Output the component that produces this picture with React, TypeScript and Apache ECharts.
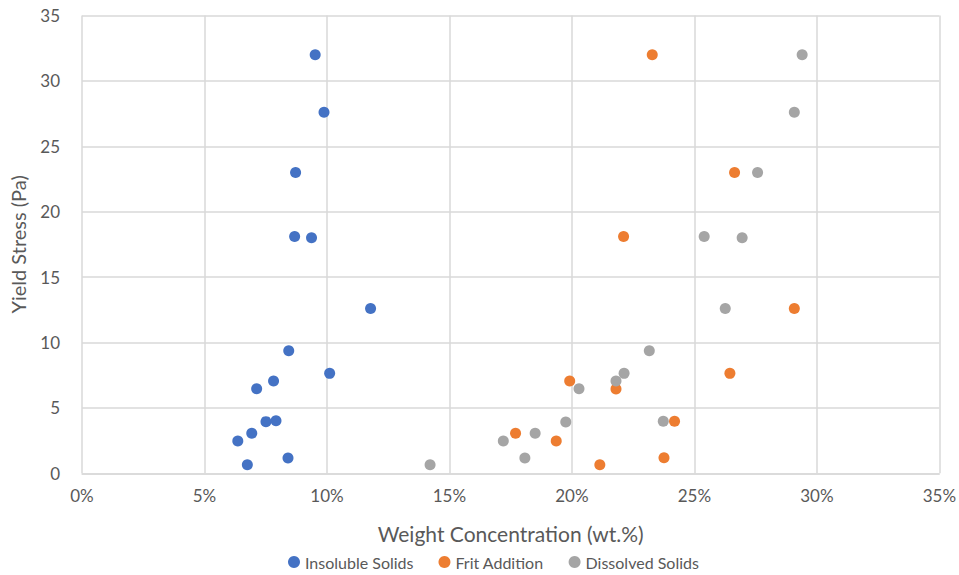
import React, { useEffect, useRef } from "react";
import * as echarts from "echarts";

const seriesNames = ["Insoluble Solids", "Frit Addition", "Dissolved Solids"];
const seriesColors = ["#4472C4", "#ED7D31", "#A5A5A5"];

// [weight concentration (fraction), yield stress (Pa)]
const insolubleSolids: [number, number][] = [
  [0.0952, 32.0], [0.0988, 27.6], [0.0872, 23.0], [0.0868, 18.1], [0.0937, 18.0],
  [0.1178, 12.6], [0.0844, 9.37], [0.1011, 7.64], [0.0782, 7.06], [0.0713, 6.47],
  [0.0751, 3.95], [0.0792, 4.02], [0.0693, 3.06], [0.0636, 2.47], [0.0841, 1.17],
  [0.0675, 0.66],
];
const fritAddition: [number, number][] = [
  [0.2328, 32.0], [0.2664, 23.0], [0.2211, 18.1], [0.2908, 12.6], [0.2645, 7.64],
  [0.1991, 7.06], [0.2180, 6.45], [0.2419, 3.98], [0.1770, 3.06], [0.1936, 2.47],
  [0.2376, 1.19], [0.2114, 0.66],
];
const dissolvedSolids: [number, number][] = [
  [0.2940, 32.0], [0.2908, 27.6], [0.2758, 23.0], [0.2540, 18.1], [0.2695, 18.0],
  [0.2626, 12.6], [0.2316, 9.37], [0.2213, 7.64], [0.2180, 7.06], [0.2029, 6.47],
  [0.2373, 3.98], [0.1975, 3.92], [0.1850, 3.06], [0.1720, 2.47], [0.1808, 1.17],
  [0.1421, 0.66],
];

const xAxisName = "Weight Concentration (wt.%)";
const yAxisName = "Yield Stress (Pa)";

export default function App() {
  const ref = useRef<HTMLDivElement>(null);
  useEffect(() => {
    if (!ref.current) return;
    const chart = echarts.init(ref.current, undefined, { renderer: "svg" });
    const font = "Lato, 'Open Sans', sans-serif";
    const data = [insolubleSolids, fritAddition, dissolvedSolids];
    chart.setOption({
      animation: false,
      textStyle: { fontFamily: font },
      grid: { left: 82, right: 19, top: 15.5, bottom: 101.7, containLabel: false },
      legend: {
        bottom: 0,
        left: 283,
        itemWidth: 12,
        itemHeight: 12,
        itemGap: 25,
        icon: "circle",
        textStyle: { color: "#595959", fontSize: 16, fontFamily: font },
        data: seriesNames,
      },
      xAxis: {
        type: "value",
        min: 0,
        max: 0.35,
        interval: 0.05,
        name: xAxisName,
        nameLocation: "middle",
        nameGap: 50,
        nameTextStyle: { color: "#595959", fontSize: 21, fontFamily: font },
        axisLine: { show: true, lineStyle: { color: "#d9d9d9", width: 1.5 } },
        axisTick: { show: false },
        axisLabel: {
          color: "#595959",
          fontSize: 17,
          margin: 14,
          formatter: (v: number) => Math.round(v * 100) + "%",
        },
        splitLine: { show: true, lineStyle: { color: "#d9d9d9", width: 1.5 } },
      },
      yAxis: {
        type: "value",
        min: 0,
        max: 35,
        interval: 5,
        name: yAxisName,
        nameLocation: "middle",
        nameGap: 54,
        nameTextStyle: { color: "#595959", fontSize: 20, fontFamily: font },
        axisLine: { show: false },
        axisTick: { show: false },
        axisLabel: { color: "#595959", fontSize: 17, margin: 22 },
        splitLine: { show: true, lineStyle: { color: "#d9d9d9", width: 1.5 } },
      },
      series: seriesNames.map((name, i) => ({
        name,
        type: "scatter",
        data: data[i],
        symbol: "circle",
        symbolSize: 11,
        itemStyle: { color: seriesColors[i], opacity: 1 },
      })),
    });
    return () => chart.dispose();
  }, []);
  return <div ref={ref} style={{ width: 959, height: 575, position: "absolute", left: 0, top: 0 }} />;
}
